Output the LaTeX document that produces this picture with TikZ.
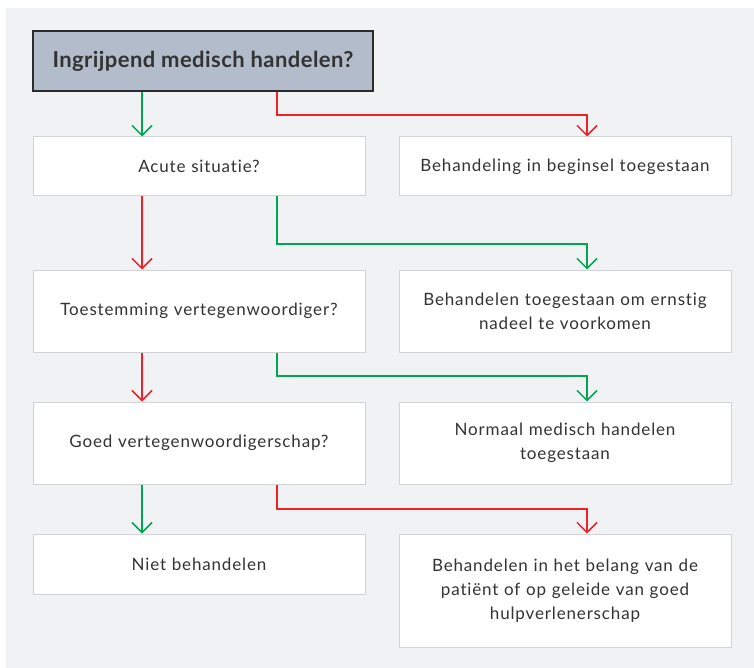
\documentclass[tikz,border=0pt]{standalone}
\usepackage{fontspec}
\setmainfont{Lato}
\newfontfamily\bodyfont[LetterSpace=5,Ligatures=NoCommon]{Lato}
\newfontfamily\headfont[LetterSpace=2,Ligatures=NoCommon]{Lato}
\usetikzlibrary{arrows.meta}
\definecolor{panel}{HTML}{F1F2F4}
\definecolor{titlefill}{HTML}{B3BCCB}
\definecolor{titleline}{HTML}{2B2B2B}
\definecolor{boxline}{HTML}{D2D3D5}
\definecolor{txt}{HTML}{333333}
\definecolor{yes}{HTML}{00A651}
\definecolor{no}{HTML}{EE2229}
\tikzset{
  box/.style={draw=boxline, line width=1pt, fill=white, inner sep=0pt, align=center,
    minimum width=332pt, text width=320pt, text=txt, font=\bodyfont\fontsize{17}{24}\selectfont},
  titlebox/.style={draw=titleline, line width=1.5pt, fill=titlefill, inner sep=0pt,
    minimum width=340pt, minimum height=60pt, text=txt, font=\headfont\fontsize{22}{26}\selectfont\bfseries},
  conn/.style={line width=1.5pt, -{Straight Barb[length=10pt,width=20pt,line width=1.5pt]}},
  yesline/.style={conn, draw=yes},
  noline/.style={conn, draw=no}
}
\begin{document}
\begin{tikzpicture}[x=1pt,y=1pt]
\useasboundingbox (0,0) rectangle (754,-668);
\fill[panel] (6,-8) rectangle (754,-668);
\coordinate (xl) at (142,0);
\coordinate (xr) at (277,0);
\coordinate (xt) at (587,0);
\coordinate (y1) at (0,-115);
\coordinate (y2) at (0,-244);
\coordinate (y3) at (0,-376);
\coordinate (y4) at (0,-509);
\node[titlebox] (title) at (203,-61) {Ingrijpend medisch handelen?};
\node[box, minimum height=59pt] (acute) at (199,-166.5) {Acute situatie?};
\node[box, minimum height=59pt] (r1) at (565,-166.5) {Behandeling in beginsel toegestaan};
\node[box, minimum height=82pt] (toest) at (199,-311) {Toestemming vertegenwoordiger?};
\node[box, minimum height=82pt] (r2) at (565,-311) {Behandelen toegestaan om ernstig\\nadeel te voorkomen};
\node[box, minimum height=82pt] (goed) at (199,-443) {Goed vertegenwoordigerschap?};
\node[box, minimum height=82pt] (r3) at (565,-443) {Normaal medisch handelen\\toegestaan};
\node[box, minimum height=60pt] (niet) at (199,-564) {Niet behandelen};
\node[box, minimum height=113pt] (r4) at (565,-590.5) {Behandelen in het belang van de\\patiënt of op geleide van goed\\hulpverlenerschap};
% row 1
\draw[yesline] (title.south -| xl) -- (acute.north -| xl);
\draw[noline] (title.south -| xr) -- (xr |- y1) -| (r1.north -| xt);
% row 2
\draw[noline] (acute.south -| xl) -- (toest.north -| xl);
\draw[yesline] (acute.south -| xr) -- (xr |- y2) -| (r2.north -| xt);
% row 3
\draw[noline] (toest.south -| xl) -- (goed.north -| xl);
\draw[yesline] (toest.south -| xr) -- (xr |- y3) -| (r3.north -| xt);
% row 4
\draw[yesline] (goed.south -| xl) -- (niet.north -| xl);
\draw[noline] (goed.south -| xr) -- (xr |- y4) -| (r4.north -| xt);
\end{tikzpicture}
\end{document}
